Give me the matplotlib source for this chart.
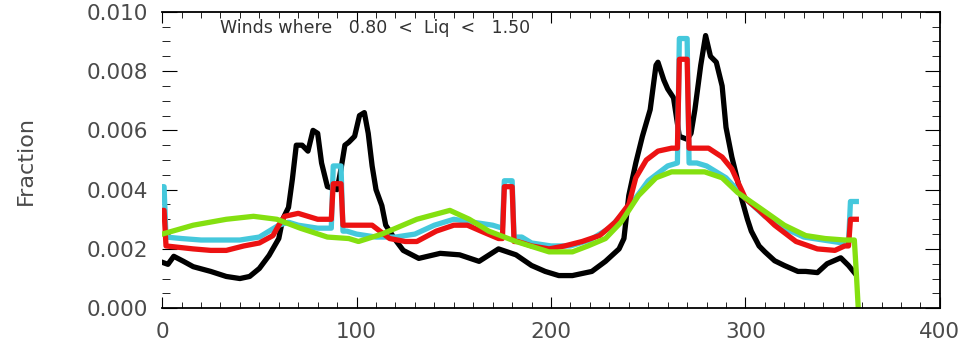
import matplotlib
matplotlib.use("Agg")
import matplotlib.pyplot as plt
from matplotlib.ticker import MultipleLocator, FormatStrFormatter

# --- data ---
black_x = [0, 3, 6, 11, 16, 25, 33, 40, 45, 50, 55, 60, 62, 65, 67, 69, 72, 75, 77.6, 80,
           82, 85, 90, 92, 94, 96, 99, 101.5, 104, 106, 108, 110, 113, 115, 120, 124, 132,
           143, 153, 163, 173, 182, 190, 197, 204, 211, 221, 228, 235, 237.5, 240, 243.6,
           247, 251, 254, 255, 258, 260, 263, 266, 270, 272, 274, 277, 279.5, 282, 285,
           288, 290, 293, 296, 298, 301, 303, 307, 310, 315, 320, 327, 331, 337, 342, 349,
           353, 356]
black_y = [0.00155, 0.00148, 0.00175, 0.00158, 0.00140, 0.00124, 0.00107, 0.00100, 0.00107,
           0.00134, 0.00178, 0.00235, 0.00300, 0.00340, 0.00436, 0.0055, 0.0055, 0.0053,
           0.0060, 0.0059, 0.0049, 0.0041, 0.0040, 0.0047, 0.0055, 0.0056, 0.0058, 0.0065,
           0.0066, 0.0059, 0.0048, 0.0040, 0.00346, 0.0028, 0.0023, 0.00195, 0.00168,
           0.00185, 0.0018, 0.00158, 0.0020, 0.0018, 0.00144, 0.00124, 0.0011, 0.0011,
           0.00124, 0.00158, 0.0020, 0.00235, 0.0038, 0.0049, 0.0058, 0.0067, 0.0082,
           0.0083, 0.0077, 0.0074, 0.0071, 0.0058, 0.0057, 0.0059, 0.0067, 0.0082, 0.0092,
           0.0085, 0.0083, 0.0075, 0.0061, 0.0051, 0.0043, 0.0037, 0.0030, 0.0026, 0.0021,
           0.0019, 0.0016, 0.00144, 0.00124, 0.00124, 0.0012, 0.0015, 0.0017, 0.00144,
           0.0012]

cyan_x = [0, 1, 2, 10, 20, 30, 40, 50, 55, 60, 65, 70, 80, 87, 88, 92, 93, 95, 100, 110,
          120, 130, 140, 150, 160, 170, 175, 176, 180, 181, 185, 190, 200, 210, 220, 230,
          240, 250, 260, 265, 266, 270, 271, 275, 280, 290, 300, 310, 320, 330, 340, 350,
          353, 354, 357]
cyan_y = [0.0041, 0.0041, 0.0024, 0.00235, 0.0023, 0.0023, 0.0023, 0.0024, 0.0026, 0.0028,
          0.0029, 0.0028, 0.0027, 0.0027, 0.0048, 0.0048, 0.0026, 0.0026, 0.0025, 0.0024,
          0.0024, 0.0025, 0.0028, 0.0030, 0.0029, 0.0028, 0.0027, 0.0043, 0.0043, 0.0024,
          0.0024, 0.0022, 0.0021, 0.0021, 0.0023, 0.0027, 0.0034, 0.0043, 0.0048, 0.0049,
          0.0091, 0.0091, 0.0049, 0.0049, 0.0048, 0.0044, 0.0037, 0.0031, 0.0027, 0.0024,
          0.0023, 0.0022, 0.0022, 0.0036, 0.0036]

red_x = [0, 1, 2, 16, 25, 33, 42, 50, 57, 60, 63, 70, 80, 87, 88, 92, 93, 100, 108, 117,
         125, 131, 141, 150, 157, 164, 173, 175, 176, 180, 181, 183, 190, 199, 207, 216,
         225, 233, 240, 243.6, 249, 255, 262, 265, 266, 270, 271, 274, 281, 288, 293, 300,
         307, 315, 326, 337, 346, 351, 353, 354, 357]
red_y = [0.0033, 0.0033, 0.0021, 0.0020, 0.00195, 0.00195, 0.0021, 0.0022, 0.00245, 0.0028,
         0.0031, 0.0032, 0.0030, 0.0030, 0.0042, 0.0042, 0.0028, 0.0028, 0.0028, 0.00235,
         0.00225, 0.00225, 0.0026, 0.0028, 0.0028, 0.0026, 0.00235, 0.00235, 0.0041, 0.0041,
         0.00225, 0.00225, 0.0021, 0.0020, 0.0021, 0.00225, 0.00245, 0.0029, 0.0035,
         0.0044, 0.0050, 0.0053, 0.0054, 0.0054, 0.0084, 0.0084, 0.0054, 0.0054, 0.0054,
         0.0051, 0.0047, 0.0037, 0.0033, 0.0028, 0.00225, 0.0020, 0.00195, 0.0021, 0.0021,
         0.0030, 0.0030]

green_x = [0, 16, 33, 47, 59, 71, 85, 96, 101, 113, 131, 148, 158, 168, 182, 199, 211,
           219, 228, 236, 245, 254, 262, 271, 279, 288, 296, 307, 320, 331, 341, 351, 356,
           357, 358]
green_y = [0.0025, 0.0028, 0.0030, 0.0031, 0.0030, 0.0027, 0.0024, 0.00235, 0.00225,
           0.0025, 0.0030, 0.0033, 0.0030, 0.0026, 0.00225, 0.0019, 0.0019, 0.0021, 0.00235,
           0.0029, 0.0038, 0.0044, 0.0046, 0.0046, 0.0046, 0.0044, 0.0039, 0.0034, 0.0028,
           0.00245, 0.00235, 0.0023, 0.0023, 0.0012, 0.0]

title_text = "Winds where   0.80  <  Liq  <   1.50"

fig = plt.figure(figsize=(9.65, 3.49), dpi=100)
ax = fig.add_axes([0.168, 0.117, 0.806, 0.849])

lw = 3.8
ax.plot(black_x, black_y, color="black", lw=lw)
ax.plot(cyan_x, cyan_y, color="#45c8dc", lw=lw)
ax.plot(red_x, red_y, color="#ec1212", lw=lw)
ax.plot(green_x, green_y, color="#84e010", lw=lw)

ax.set_xlim(0, 400)
ax.set_ylim(0, 0.010)
ax.xaxis.set_major_locator(MultipleLocator(100))
ax.xaxis.set_minor_locator(MultipleLocator(10))
ax.yaxis.set_major_locator(MultipleLocator(0.002))
ax.yaxis.set_minor_locator(MultipleLocator(0.0005))
ax.yaxis.set_major_formatter(FormatStrFormatter("%.3f"))

ax.tick_params(which="both", direction="in", top=True, right=True, colors="black",
               labelcolor="#4a4a4a", labelsize=15.5)
ax.tick_params(axis="y", which="major", length=11, pad=10)
ax.tick_params(axis="y", which="minor", length=6)
ax.tick_params(axis="x", which="major", length=8, pad=10)
ax.tick_params(axis="x", which="minor", length=4)
ax.spines["left"].set_visible(False)
for s in ["top", "right", "bottom"]:
    ax.spines[s].set_linewidth(1.3)

ax.text(0.075, 0.946, title_text, transform=ax.transAxes, fontsize=12.5,
        color="#333333", va="center", ha="left")
ax.set_ylabel("Fraction", fontsize=16, color="#4a4a4a")
ax.yaxis.set_label_coords(-0.162, 0.5)

fig.savefig("out.png", dpi=100)
